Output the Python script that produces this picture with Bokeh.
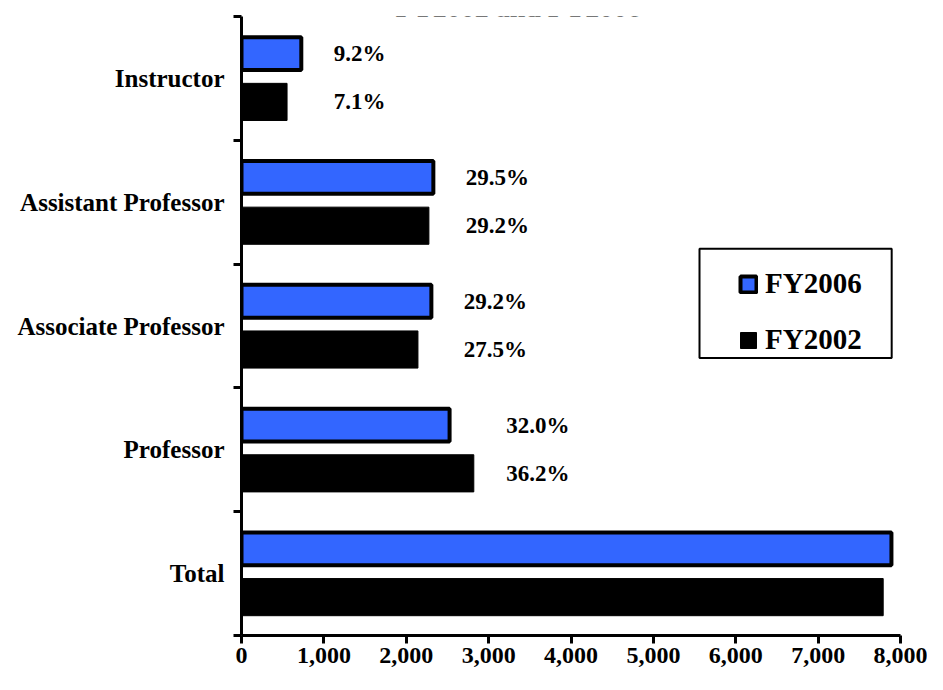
from bokeh.plotting import figure
from bokeh.models import (Range1d, FixedTicker, Label, Legend, LegendItem,
                          ColumnDataSource, NumeralTickFormatter, BoxAnnotation)
from bokeh.core.properties import value
from bokeh.embed import file_html
from bokeh.resources import INLINE

# ---- data ----
categories = ["Total", "Professor", "Associate Professor", "Assistant Professor", "Instructor"]
fy2006 = [7890, 2526, 2305, 2329, 726]
fy2002 = [7790, 2820, 2142, 2275, 553]
pct2006 = ["", "32.0%", "29.2%", "29.5%", "9.2%"]
pct2002 = ["", "36.2%", "27.5%", "29.2%", "7.1%"]
x_ticks = [0, 1000, 2000, 3000, 4000, 5000, 6000, 7000, 8000]
series_names = ["FY2006", "FY2002"]
title_text = "FY2002 and FY2006"

FONT = "Liberation Serif"
BLUE = "#3366FF"

W, H = 927, 674
p = figure(width=W, height=H, output_backend="svg", toolbar_location=None,
           x_range=Range1d(0, 8000), y_range=Range1d(0, len(categories)),
           min_border_left=241, min_border_right=27, min_border_top=16,
           min_border_bottom=39)
p.outline_line_color = None
p.xgrid.visible = False
p.ygrid.visible = False
p.background_fill_color = "white"
p.border_fill_color = "white"

n = len(categories)
centers = [i + 0.5 for i in range(n)]
y_blue = [c + 0.2 for c in centers]
y_black = [c - 0.19 for c in centers]

src_b = ColumnDataSource(dict(y=y_blue, right=fy2006))
src_k = ColumnDataSource(dict(y=y_black, right=fy2002))
rb = p.hbar(y="y", right="right", left=0, height=0.265, source=src_b,
            fill_color=BLUE, line_color="black", line_width=4)
rk = p.hbar(y="y", right="right", left=0, height=0.30, source=src_k,
            fill_color="black", line_color="black", line_width=1)

# percentage labels
offset = 393
lx, ly, lt = [], [], []
for i in range(n):
    xpos = max(fy2006[i], fy2002[i]) + offset
    if pct2006[i]:
        lx.append(xpos); ly.append(y_blue[i]); lt.append(pct2006[i])
    if pct2002[i]:
        lx.append(xpos); ly.append(y_black[i]); lt.append(pct2002[i])
p.text(x=lx, y=ly, text=lt, text_font=value(FONT), text_font_style="bold",
       text_font_size="23px", text_align="left", text_baseline="middle",
       text_color="black")

# x axis
xa = p.xaxis[0]
xa.ticker = FixedTicker(ticks=x_ticks)
xa.formatter = NumeralTickFormatter(format="0,0")
xa.axis_line_width = 3
xa.axis_line_color = "black"
xa.major_tick_line_width = 3
xa.major_tick_out = 8
xa.major_tick_in = 0
xa.minor_tick_line_color = None
xa.major_label_standoff = 4
xa.major_label_text_font = FONT
xa.major_label_text_font_style = "bold"
xa.major_label_text_font_size = "24px"
xa.major_label_text_color = "black"

# y axis
ya = p.yaxis[0]
ya.ticker = FixedTicker(ticks=centers, minor_ticks=list(range(n + 1)))
ya.major_label_overrides = {c: cat for c, cat in zip(centers, categories)}
ya.axis_line_width = 3
ya.axis_line_color = "black"
ya.major_tick_line_color = None
ya.major_tick_out = 0
ya.major_tick_in = 0
ya.minor_tick_line_width = 3
ya.minor_tick_line_color = "black"
ya.minor_tick_out = 8
ya.minor_tick_in = 0
ya.major_label_standoff = 9
ya.major_label_text_font = FONT
ya.major_label_text_font_style = "bold"
ya.major_label_text_font_size = "25px"
ya.major_label_text_color = "black"

# legend frame
legend_box = BoxAnnotation(left=5560, right=7893, bottom=2.242, top=3.123,
                           fill_color="white", fill_alpha=1,
                           line_color="black", line_width=2, line_alpha=1)
p.add_layout(legend_box)

legend = Legend(items=[LegendItem(label=series_names[0], renderers=[rb]),
                       LegendItem(label=series_names[1], renderers=[rk])],
                location=(497, 279))
legend.border_line_color = None
legend.background_fill_alpha = 0
legend.glyph_width = 20
legend.glyph_height = 20
legend.label_standoff = 7
legend.padding = 0
legend.spacing = 23
legend.margin = 0
legend.label_text_font = FONT
legend.label_text_font_style = "bold"
legend.label_text_font_size = "29px"
legend.label_text_color = "black"
legend.label_text_baseline = "middle"
p.add_layout(legend)

# title (its upper part lies above the picture, as in the reference)
title = Label(x=3360, y=5.073, text=title_text, text_align="center",
              text_baseline="alphabetic", text_font=FONT, text_font_style="bold",
              text_font_size="28px", text_color="black")
p.add_layout(title)

open("out.html", "w").write(file_html(p, INLINE))
